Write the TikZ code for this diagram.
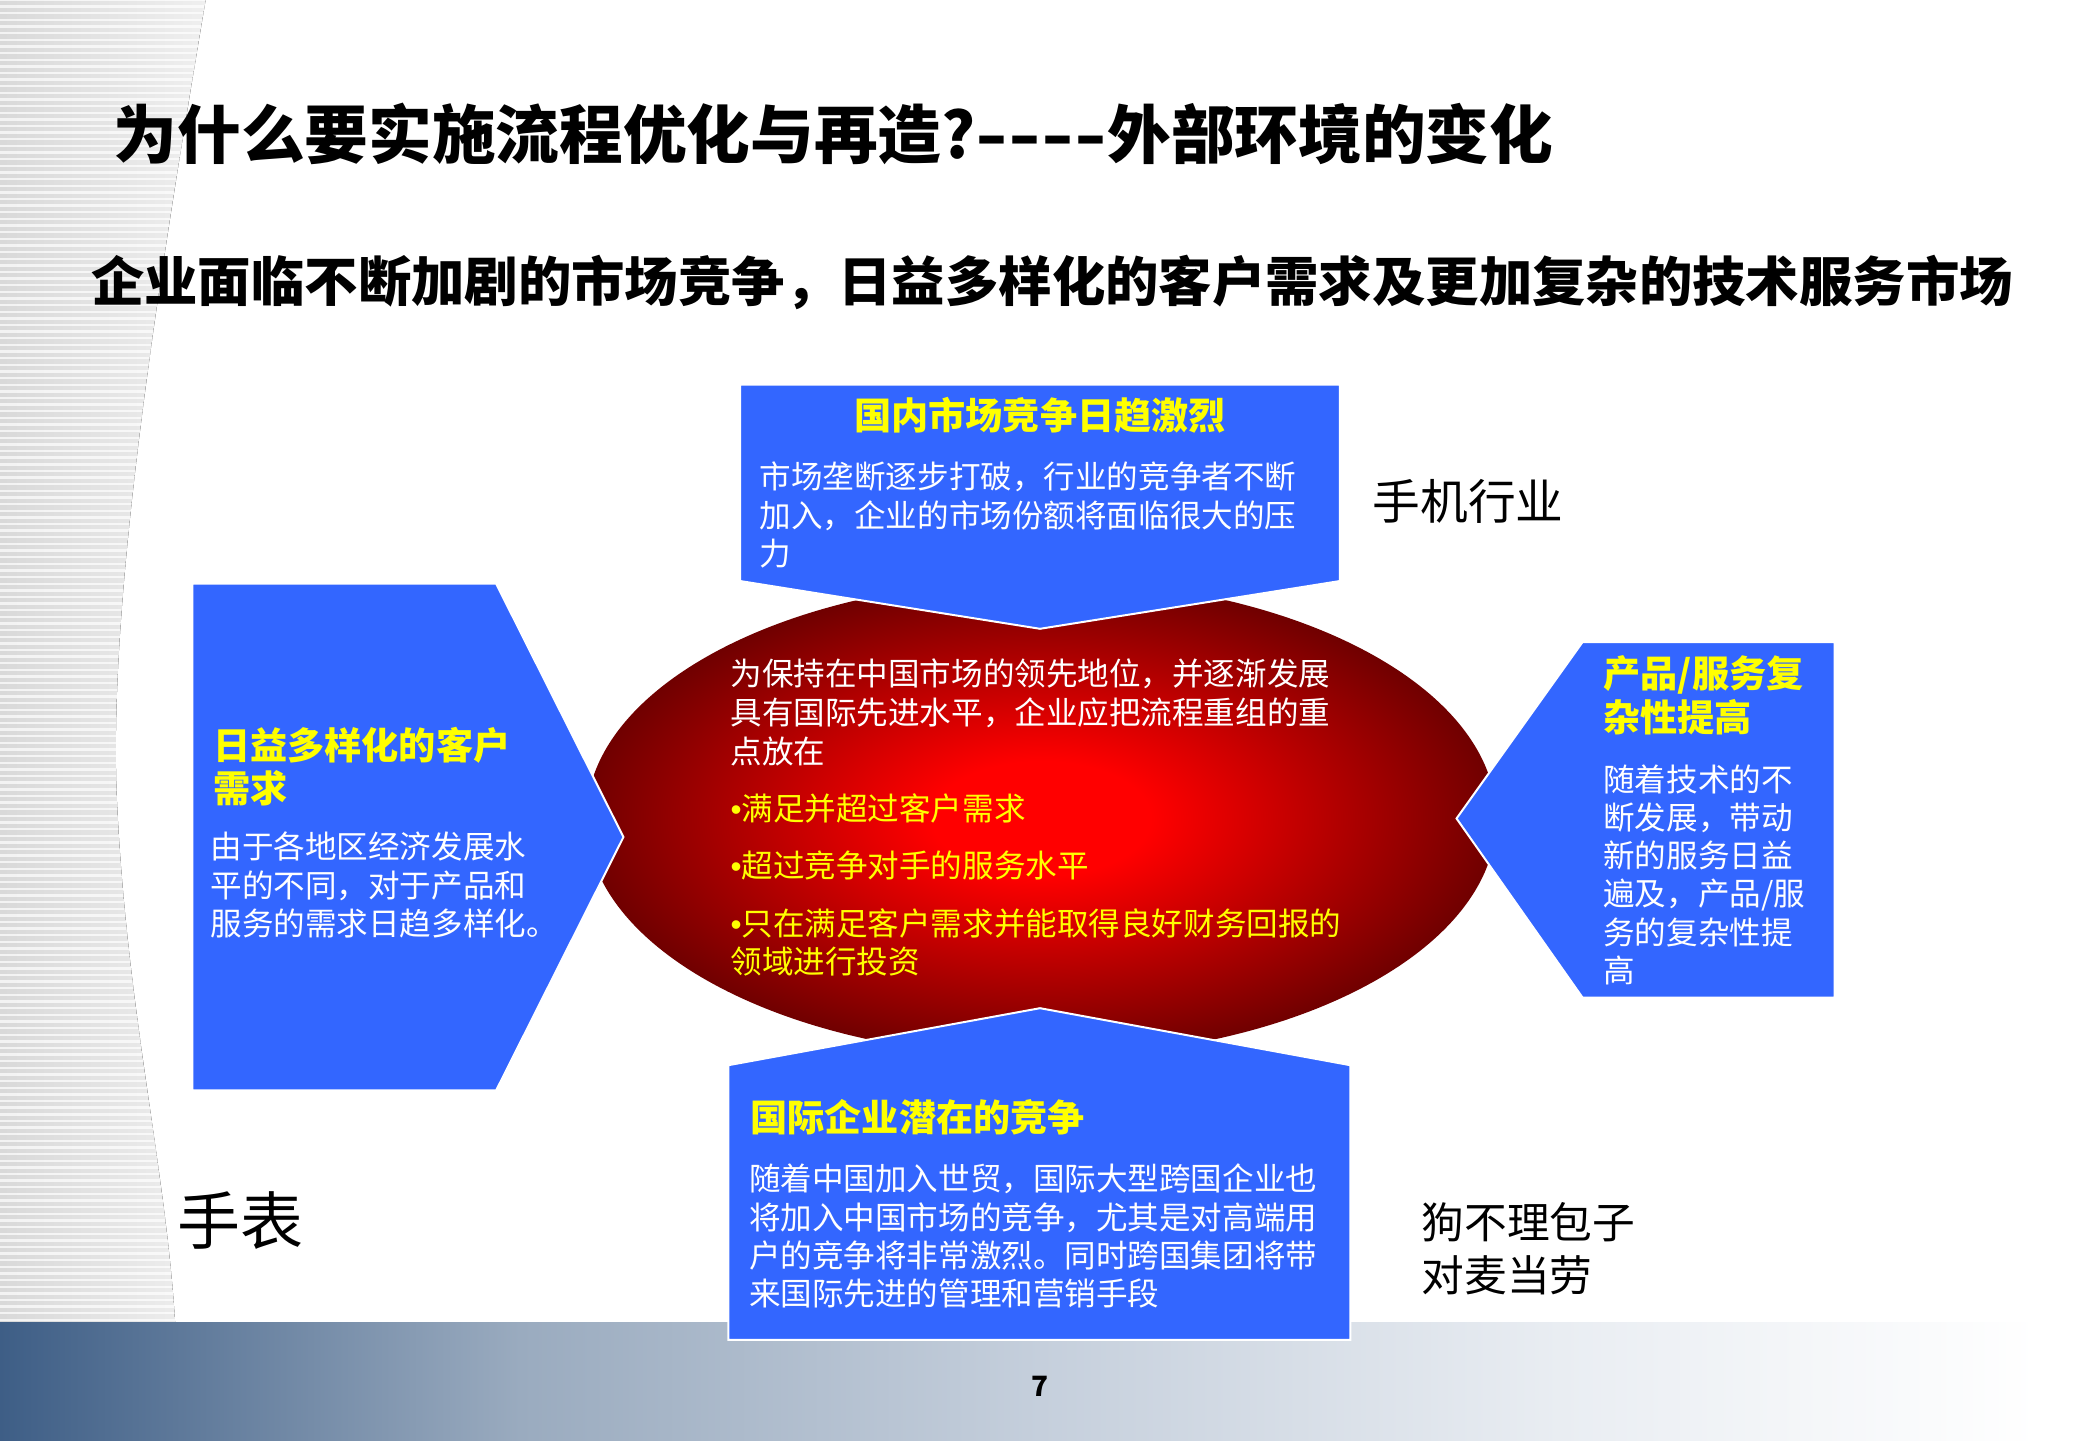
\documentclass[tikz,border=0pt]{standalone}
\usepackage{fontspec}
\usepackage{graphicx}
\setmainfont{Noto Sans CJK SC}
\newfontfamily\bulletfont{Liberation Sans}
\definecolor{boxblue}{RGB}{51,102,255}
\definecolor{ttlyellow}{RGB}{255,255,0}
\definecolor{barA}{RGB}{62,94,134}
\definecolor{barB}{RGB}{154,171,191}
\definecolor{barC}{RGB}{197,207,220}
\definecolor{barD}{RGB}{233,237,242}
\definecolor{ellOut}{RGB}{112,0,0}
\newcommand\setfs[2]{\fontsize{#1}{#2}\selectfont}
\newcommand\bul{{\bulletfont •}}
\newcommand\dashbar{\scalebox{1.35}[1]{-}}
\pgfdeclarehorizontalshading{barshade}{100bp}{color(0bp)=(barA); color(25bp)=(barA); color(37.5bp)=(barB); color(50bp)=(barC); color(62.5bp)=(barD); color(74bp)=(white); color(100bp)=(white)}
\pgfdeclareradialshading{ellshade}{\pgfpoint{0bp}{0bp}}{color(0bp)=(red); color(6bp)=(red); color(25bp)=(ellOut); color(50bp)=(ellOut)}
\tikzset{
  arrowbox/.style={fill=boxblue, draw=white, line width=0.15mm},
  boxtitle/.style={inner sep=0, align=left, text=ttlyellow, font=\bfseries\setfs{7.97}{9.2}},
  boxbody/.style={anchor=north west, inner sep=0, align=left, text=white, font=\setfs{6.77}{8.25}},
  plainlabel/.style={inner sep=0, align=left, text=black},
}
\begin{document}
\begin{tikzpicture}[x=0.1mm,y=-0.1mm]
\useasboundingbox (0,0) rectangle (1568,1086);
\fill[white] (0,0) rectangle (1568,1086);
% striped background at left
\begin{scope}
\clip (0,0) -- (155,0) .. controls (118,220) and (82,450) .. (88,600) .. controls (95,760) and (125,880) .. (132,997) -- (0,997) -- cycle;
\fill[left color=gray!30, right color=gray!12] (0,0) rectangle (160,997);
\foreach \yy in {0,5,...,995} \draw[white, opacity=0.7, line width=0.18mm] (0,\yy) -- (160,\yy);
\end{scope}
% bottom bar
\shade[shading=barshade] (0,997) rectangle (1568,1086);
% central ellipse
\shade[shading=ellshade] (785,617) ellipse [x radius=34.3mm, y radius=18mm];
% arrow boxes
\path[arrowbox] (558,290) -- (1010,290) -- (1010,438) -- (784,474) -- (558,438) -- cycle;
\path[arrowbox] (145,440) -- (374,440) -- (470,631) -- (374,822) -- (145,822) -- cycle;
\path[arrowbox] (1193,484) -- (1383,484) -- (1383,752) -- (1193,752) -- (1098,617) -- cycle;
\path[arrowbox] (549,803) -- (784,760) -- (1018,803) -- (1018,1010) -- (549,1010) -- cycle;
% headings
\node[anchor=west, inner sep=0, font=\bfseries\setfs{13.66}{16}] (title) at (85,101)
  {为什么要实施流程优化与再造?\dashbar\dashbar\dashbar\dashbar 外部环境的变化};
\node[anchor=west, inner sep=0, font=\bfseries\setfs{11.45}{14}] (subtitle) at (68,213)
  {企业面临不断加剧的市场竞争，日益多样化的客户需求及更加复杂的技术服务市场};
% top box
\node[boxtitle, anchor=center] (toptitle) at (784,313) {国内市场竞争日趋激烈};
\node[boxbody] (topbody) at (572,347.6) {市场垄断逐步打破，行业的竞争者不断\\加入，企业的市场份额将面临很大的压\\力};
% left box
\node[boxtitle, anchor=north west] (lefttitle) at (160,547.6) {日益多样化的客户\\需求};
\node[boxbody] (leftbody) at (158,626.6) {由于各地区经济发展水\\平的不同，对于产品和\\服务的需求日趋多样化。};
% right box
\node[boxtitle, anchor=north west, font=\bfseries\setfs{7.97}{9.39}] (righttitle) at (1208,493.6) {产品/服务复\\杂性提高};
\node[boxbody, font=\setfs{6.77}{8.2}] (rightbody) at (1208,575.6) {随着技术的不\\断发展，带动\\新的服务日益\\遍及，产品/服\\务的复杂性提\\高};
% bottom box
\node[boxtitle, anchor=west] (bottitle) at (565,842) {国际企业潜在的竞争};
\node[boxbody] (botbody) at (564,876.6) {随着中国加入世贸，国际大型跨国企业也\\将加入中国市场的竞争，尤其是对高端用\\户的竞争将非常激烈。同时跨国集团将带\\来国际先进的管理和营销手段};
% ellipse text
\node[boxbody, font=\setfs{6.77}{8.39}] (ellwhite) at (550,495.6) {为保持在中国市场的领先地位，并逐渐发展\\具有国际先进水平，企业应把流程重组的重\\点放在};
\node[boxbody, text=ttlyellow, font=\setfs{6.77}{8.11}] (ellyellow) at (550,597.6) {\bul 满足并超过客户需求\\[4.2pt]\bul 超过竞争对手的服务水平\\[4.2pt]\bul 只在满足客户需求并能取得良好财务回报的\\领域进行投资};
% free labels
\node[plainlabel, anchor=west, font=\setfs{10.24}{12}] (phone) at (1034,378) {手机行业};
\node[plainlabel, anchor=west, font=\setfs{13.5}{16}] (watch) at (133,920) {手表};
\node[plainlabel, anchor=north west, font=\setfs{9.16}{11.38}] (brands) at (1071,905.5) {狗不理包子\\对麦当劳};
% page number
\node[inner sep=0, font=\bfseries\setfs{6}{7}] (pagenum) at (784,1045) {7};
\end{tikzpicture}
\end{document}
